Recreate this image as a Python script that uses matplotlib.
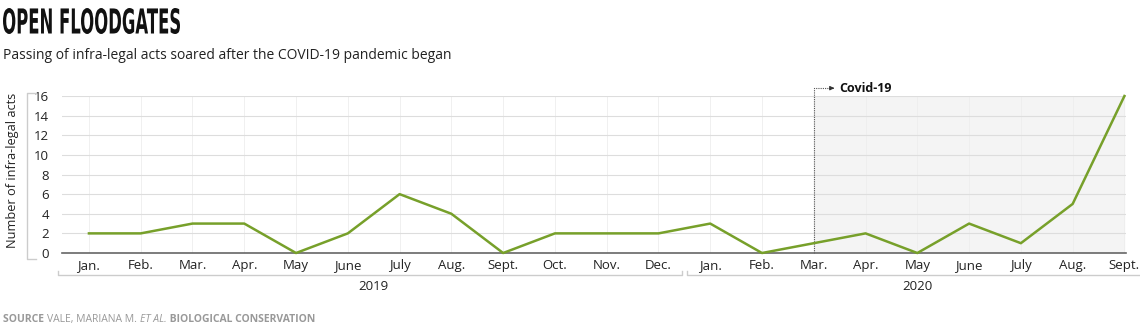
import numpy as np
import matplotlib.pyplot as plt
from matplotlib.textpath import TextPath
from matplotlib.patches import PathPatch
from matplotlib.font_manager import FontProperties
from matplotlib.transforms import Affine2D, blended_transform_factory

plt.rcParams["font.family"] = ["Open Sans", "DejaVu Sans"]

# data
months = ["Jan.", "Feb.", "Mar.", "Apr.", "May", "June", "July", "Aug.", "Sept.",
          "Oct.", "Nov.", "Dec.",
          "Jan.", "Feb.", "Mar.", "Apr.", "May", "June", "July", "Aug.", "Sept."]
acts = [2, 2, 3, 3, 0, 2, 6, 4, 0, 2, 2, 2, 3, 0, 1, 2, 0, 3, 1, 5, 16]
years = ["2019", "2020"]
year_span = [(0, 11), (12, 20)]
covid_start = 14
yticks = list(range(0, 17, 2))

GREEN = "#77a02a"
GREY = "#999999"
W, H = 1140, 326

fig = plt.figure(figsize=(W / 100, H / 100), dpi=100)
ax = fig.add_axes([0.0544, 0.2239, 0.9333, 0.4816])

x = np.arange(len(acts))
ax.axvspan(covid_start, x[-1], color="#f4f4f4", zorder=0)
ax.plot(x, acts, color=GREEN, lw=1.8, zorder=3, clip_on=False)

ax.set_xlim(-0.52, x[-1] + 0.03)
ax.set_ylim(0, 16)
ax.set_yticks(yticks)
ax.set_xticks(x)
ax.set_xticklabels(months)
ax.grid(axis="y", color="#dddddd", lw=0.8)
ax.grid(axis="x", color="#eeeeee", lw=0.6)
ax.set_axisbelow(True)
for s in ["top", "right", "left"]:
    ax.spines[s].set_visible(False)
ax.spines["bottom"].set_color("#666666")
ax.spines["bottom"].set_linewidth(1.2)
ax.tick_params(axis="both", length=0, labelsize=9.5, colors="#222222")
ax.tick_params(axis="x", pad=4)
ax.tick_params(axis="y", pad=9.5)

# y axis bracket "[" left of the tick labels
bt = blended_transform_factory(ax.transAxes, ax.transData)
ax.plot([-0.0244, -0.0329, -0.0329, -0.0244], [16.35, 16.35, -0.6, -0.6],
        transform=bt, color="#cccccc", lw=1, clip_on=False)
fig.text(0.011, 0.478, "Number of infra-legal acts", rotation=90,
         ha="center", va="center", fontsize=9.2, color="#222222")

# year brackets under the month labels
brackets = [(-0.6, 11.46), (11.56, 20.4)]
for yr, (a, b), (lo, hi) in zip(years, year_span, brackets):
    ax.plot([lo, lo, hi, hi], [-1.8, -2.2, -2.2, -1.8], color="#cccccc", lw=1,
            clip_on=False)
    ax.text((a + b) / 2, -3.4, yr, ha="center", va="center", fontsize=9.5,
            color="#222222")

# covid annotation
ax.plot([covid_start, covid_start, covid_start + 0.35], [0, 16.8, 16.8],
        color="#555555", lw=0.8, ls=(0, (1, 1)), clip_on=False)
ax.annotate("", xy=(covid_start + 0.45, 16.8), xytext=(covid_start + 0.3, 16.8),
            arrowprops=dict(arrowstyle="-|>", color="#333333", lw=0.8,
                            mutation_scale=6), annotation_clip=False)
ax.text(covid_start + 0.5, 16.8, "Covid-19", fontsize=9, fontweight="bold",
        va="center", ha="left", color="#111111")

# condensed title: squeeze a bold text path into the reference box
tp = TextPath((0, 0), "OPEN FLOODGATES", size=10,
              prop=FontProperties(family="DejaVu Sans", weight="bold"))
ext = tp.get_extents()
box = (3, 180, 8, 34)  # left, right, top, bottom in pixels
sx = (box[1] - box[0]) / ext.width
sy = (box[3] - box[2]) / ext.height
tr = (Affine2D().translate(-ext.x0, -ext.y0).scale(sx, sy)
      .translate(box[0], H - box[3]).scale(1 / W, 1 / H))
fig.patches.append(PathPatch(tp, transform=tr + fig.transFigure,
                             color="#111111", lw=0))
fig.text(0.003, 0.83, "Passing of infra-legal acts soared after the COVID-19 pandemic began",
         fontsize=10, va="center", ha="left", color="#222222")

# source line
yb = 0.012
t1 = fig.text(0.003, yb, "SOURCE ", fontsize=7.5, fontweight="bold",
              color=GREY, va="baseline", ha="left")
t2 = fig.text(0, 0, "VALE, MARIANA M. ", fontsize=7.5, color=GREY,
              va="baseline", ha="left")
fig.canvas.draw()
r = fig.canvas.get_renderer()
bb = t1.get_window_extent(r)
t2.set_position((bb.x1 / W, yb))
bb = t2.get_window_extent(r)
t3 = fig.text(bb.x1 / W, yb, "ET AL.", fontsize=7.5, style="italic",
              color=GREY, va="baseline", ha="left")
bb = t3.get_window_extent(r)
fig.text(bb.x1 / W, yb, " BIOLOGICAL CONSERVATION", fontsize=7.5,
         fontweight="bold", color=GREY, va="baseline", ha="left")

fig.savefig("out.png", dpi=100)
